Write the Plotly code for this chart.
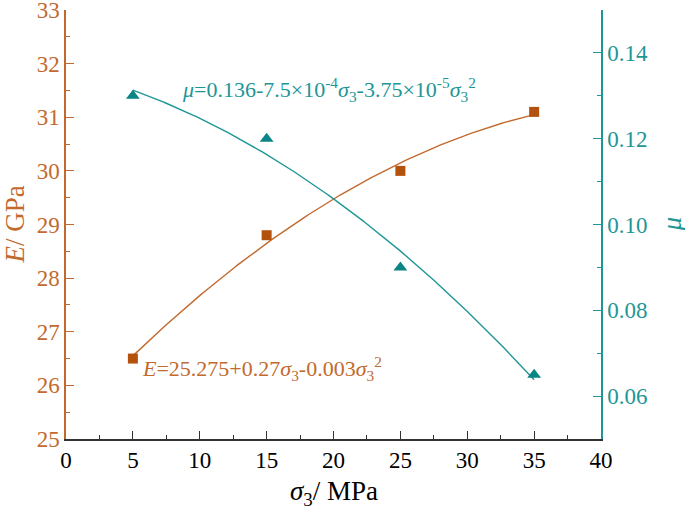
import numpy as np
import plotly.graph_objects as go

# Data
sigma3 = [5, 15, 25, 35]
E_vals = [26.5, 28.8, 30.0, 31.1]
mu_vals = [0.130, 0.120, 0.090, 0.065]

# Fit coefficients as printed on the chart (c0, c1, c2)
E_fit_coef = [25.275, 0.27, -0.003]
mu_fit_coef = [0.136, -7.5e-4, -3.75e-5]

x_ticks = [0, 5, 10, 15, 20, 25, 30, 35, 40]
E_ticks = [25, 26, 27, 28, 29, 30, 31, 32, 33]
mu_ticks = [0.06, 0.08, 0.10, 0.12, 0.14]

E_COLOR = "#C26A2E"
E_MARK = "#B3520C"
MU_COLOR = "#1E9696"
MU_MARK = "#0A8585"
FONT = "Liberation Serif"

xs = np.linspace(min(sigma3), max(sigma3), 200)
E_fit = E_fit_coef[0] + E_fit_coef[1] * xs + E_fit_coef[2] * xs**2
mu_fit = mu_fit_coef[0] + mu_fit_coef[1] * xs + mu_fit_coef[2] * xs**2

fig = go.Figure()
fig.add_trace(go.Scatter(x=xs, y=E_fit, mode="lines",
                         line=dict(color=E_COLOR, width=1.4), showlegend=False))
fig.add_trace(go.Scatter(x=xs, y=mu_fit, mode="lines", yaxis="y2",
                         line=dict(color=MU_COLOR, width=1.4), showlegend=False))
fig.add_trace(go.Scatter(x=sigma3, y=E_vals, mode="markers",
                         marker=dict(symbol="square", size=10, color=E_MARK),
                         showlegend=False))
fig.add_trace(go.Scatter(x=sigma3, y=mu_vals, mode="markers", yaxis="y2",
                         marker=dict(symbol="triangle-up", size=12, color=MU_MARK),
                         showlegend=False))

fig.update_layout(
    width=685, height=509,
    margin=dict(l=66, r=84, t=10, b=70),
    plot_bgcolor="white", paper_bgcolor="white",
    font=dict(family=FONT, size=22, color="black"),
    xaxis=dict(
        range=[0, 40], tickvals=x_ticks, ticks="inside", ticklen=8, tickwidth=1.3,
        tickcolor="#333333", showline=True, linecolor="#333333", linewidth=1.5,
        showgrid=False, zeroline=False, automargin=False, ticklabeloverflow="allow",
        minor=dict(ticks="inside", ticklen=4, dtick=2.5, tickcolor="#333333", showgrid=False),
        tickfont=dict(family=FONT, size=23, color="black"),
    ),
    yaxis=dict(
        range=[25, 33], tickvals=E_ticks, ticks="inside", ticklen=8, tickwidth=1.3,
        tickcolor=E_COLOR, showline=True, linecolor=E_COLOR, linewidth=1.5,
        showgrid=False, zeroline=False, automargin=False, ticklabeloverflow="allow",
        minor=dict(ticks="inside", ticklen=4, dtick=0.5, tickcolor=E_COLOR, showgrid=False),
        tickfont=dict(family=FONT, size=23, color=E_COLOR),
    ),
    yaxis2=dict(
        range=[0.05, 0.15], tickvals=mu_ticks, ticktext=[f"{v:.2f}" for v in mu_ticks],
        overlaying="y", side="right", anchor="x",
        ticks="inside", ticklen=8, tickwidth=1.3,
        tickcolor=MU_COLOR, showline=True, linecolor=MU_COLOR, linewidth=1.5,
        showgrid=False, zeroline=False, automargin=False, ticklabeloverflow="allow",
        minor=dict(ticks="inside", ticklen=4, dtick=0.01, tick0=0.05, tickcolor=MU_COLOR, showgrid=False),
        tickfont=dict(family=FONT, size=23, color=MU_COLOR),
    ),
    annotations=[
        # axis titles
        dict(x=0.5, y=0, xref="paper", yref="paper", xanchor="center", yanchor="middle",
             yshift=-54, showarrow=False,
             text="<i>σ</i><sub>3</sub>/ MPa", font=dict(family=FONT, size=27, color="black")),
        dict(x=0, y=0.5, xref="paper", yref="paper", xanchor="center", yanchor="middle",
             xshift=-52, textangle=-90, showarrow=False,
             text="<i>E</i>/ GPa", font=dict(family=FONT, size=27, color=E_COLOR)),
        dict(x=1, y=0.5, xref="paper", yref="paper", xanchor="center", yanchor="middle",
             xshift=70, textangle=-90, showarrow=False,
             text="<i>μ</i>", font=dict(family=FONT, size=27, color=MU_COLOR)),
        # fit equations
        dict(x=8.5, y=0.1315, xref="x", yref="y2", xanchor="left", yanchor="middle",
             showarrow=False,
             text="<i>μ</i>=0.136-7.5×10<sup>-4</sup><i>σ</i><sub>3</sub>-3.75×10<sup>-5</sup><i>σ</i><sub>3</sub><sup>2</sup>",
             font=dict(family=FONT, size=22, color=MU_COLOR)),
        dict(x=5.5, y=26.32, xref="x", yref="y", xanchor="left", yanchor="middle",
             showarrow=False,
             text="<i>E</i>=25.275+0.27<i>σ</i><sub>3</sub>-0.003<i>σ</i><sub>3</sub><sup>2</sup>",
             font=dict(family=FONT, size=22, color=E_COLOR)),
    ],
)

fig.write_html("out.html",
               config={"displayModeBar": False},
               post_script="document.body.style.margin='0';document.body.style.padding='0';")
